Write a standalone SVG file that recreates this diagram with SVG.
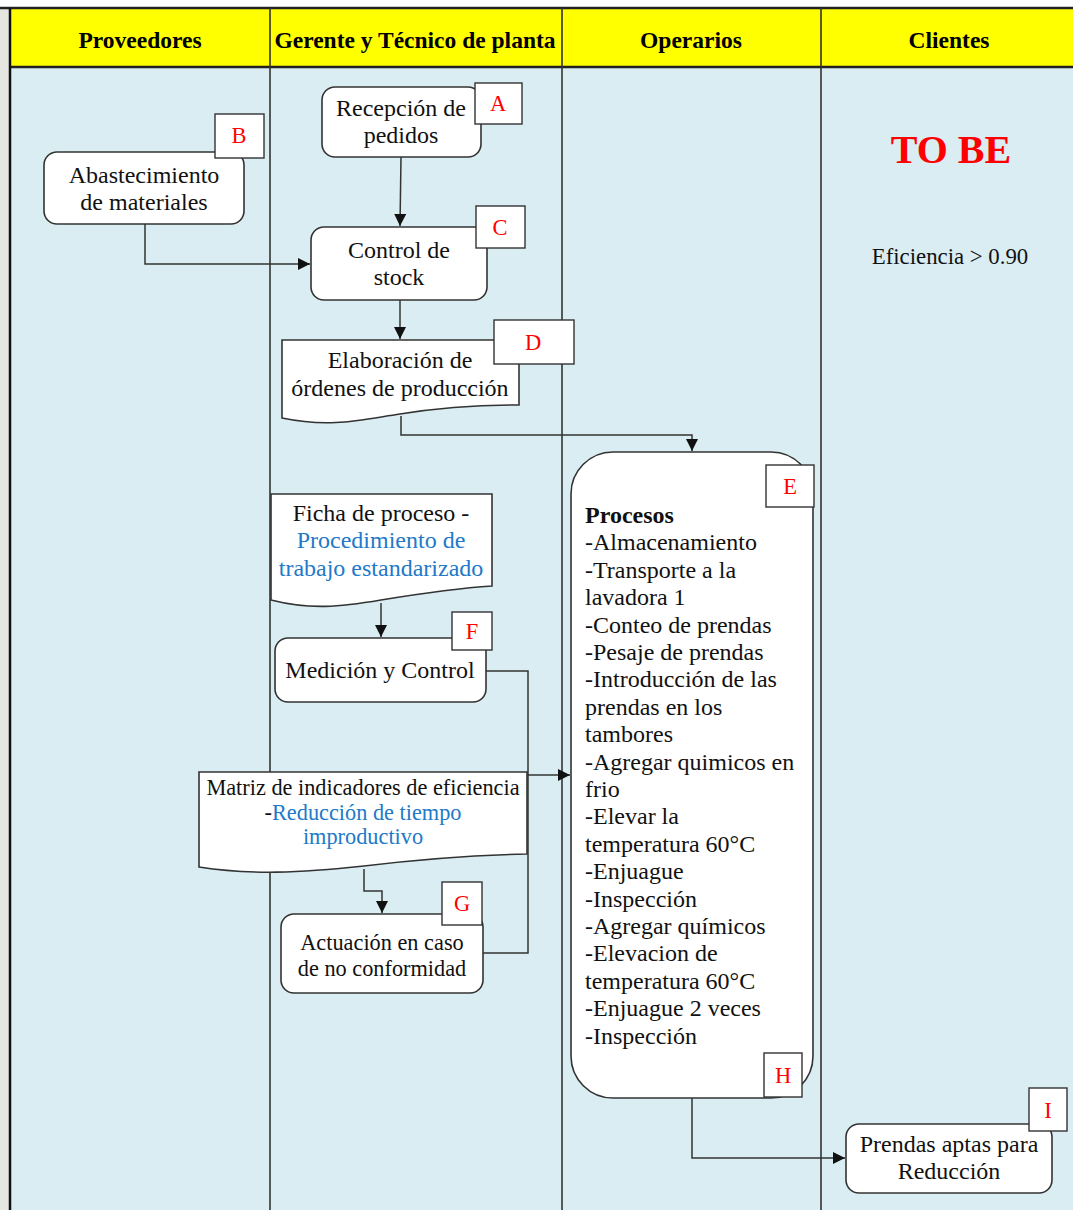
<svg xmlns="http://www.w3.org/2000/svg" width="1073" height="1210" viewBox="0 0 1073 1210">
  <defs>
    <style>
      .hdr { font-family: "Liberation Serif", "Times New Roman", serif; font-weight: bold; font-size: 23.5px; fill: #000; text-anchor: middle; }
      .txt { font-family: "Liberation Serif", "Times New Roman", serif; font-size: 24px; fill: #111; text-anchor: middle; }
      .sm { font-size: 22.3px; }
      .lst { font-family: "Liberation Serif", "Times New Roman", serif; font-size: 24px; fill: #111; }
      .blue { fill: #2179C8; }
      .node { fill: #fff; stroke: #333; stroke-width: 1.6; }
      .tag { fill: #fff; stroke: #333; stroke-width: 1.4; }
      .tagtxt { font-family: "Liberation Serif", "Times New Roman", serif; font-size: 22.5px; fill: #ff0000; text-anchor: middle; }
      .lane { stroke: #333; stroke-width: 1.6; }
      .conn { fill: none; stroke: #333; stroke-width: 1.5; }
    </style>
    <marker id="arrow" markerUnits="userSpaceOnUse" markerWidth="12" markerHeight="12" refX="12" refY="6" orient="auto">
      <path d="M0,0 L12,6 L0,12 z" fill="#111"/>
    </marker>
  </defs>

  <!-- page background -->
  <rect x="0" y="0" width="1073" height="1210" fill="#ffffff"/>
  <rect x="0" y="8" width="9" height="1202" fill="#e4e6df"/>
  <rect x="9" y="68" width="1064" height="1142" fill="#DAEDF3"/>
  <rect x="9" y="9" width="1064" height="58" fill="#FFFF00"/>

  <!-- lane grid -->
  <g id="lanes">
    <line x1="0" y1="8" x2="1073" y2="8" stroke="#222" stroke-width="2.5"/>
    <line x1="9" y1="67" x2="1073" y2="67" stroke="#222" stroke-width="2.5"/>
    <line x1="10" y1="8" x2="10" y2="1210" stroke="#111" stroke-width="2.5"/>
    <line class="lane" x1="270" y1="8" x2="270" y2="1210"/>
    <line class="lane" x1="562" y1="8" x2="562" y2="1210"/>
    <line class="lane" x1="821" y1="8" x2="821" y2="1210"/>
  </g>

  <!-- lane titles -->
  <g id="headers">
    <text class="hdr" x="140" y="48">Proveedores</text>
    <text class="hdr" x="415" y="48">Gerente y Técnico de planta</text>
    <text class="hdr" x="691" y="48">Operarios</text>
    <text class="hdr" x="949" y="48">Clientes</text>
  </g>

  <!-- status notes -->
  <g id="notes">
    <text x="951" y="163" font-family="Liberation Serif, Times New Roman, serif" font-weight="bold" font-size="40" fill="#ff0000" text-anchor="middle">TO BE</text>
    <text x="950" y="264" font-family="Liberation Serif, Times New Roman, serif" font-size="22.8" fill="#111" text-anchor="middle">Eficiencia &gt; 0.90</text>
  </g>

  <!-- connectors -->
  <g id="connectors">
    <path class="conn" d="M401,157 L400,226" marker-end="url(#arrow)"/>
    <path class="conn" d="M145,224 V264 H310" marker-end="url(#arrow)"/>
    <path class="conn" d="M400,300 V339" marker-end="url(#arrow)"/>
    <path class="conn" d="M401,416 V435 H692 V451" marker-end="url(#arrow)"/>
    <path class="conn" d="M381,603 V637" marker-end="url(#arrow)"/>
    <path class="conn" d="M486,671 H528 V775"/>
    <path class="conn" d="M483,953 H528 V775"/>
    <path class="conn" d="M528,775 H570" marker-end="url(#arrow)"/>
    <path class="conn" d="M364,869 V891 H382 V913" marker-end="url(#arrow)"/>
    <path class="conn" d="M692,1098 V1158 H845" marker-end="url(#arrow)"/>
  </g>

  <!-- A: order reception -->
  <g id="node-a">
    <rect class="node" x="322" y="87" width="159" height="70" rx="13"/>
    <text class="txt" x="401" y="116">Recepción de</text>
    <text class="txt" x="401" y="143">pedidos</text>
    <rect class="tag" x="475" y="83" width="47" height="41"/>
    <text class="tagtxt" x="498" y="111">A</text>
  </g>

  <!-- B: material supply -->
  <g id="node-b">
    <rect class="node" x="44" y="152" width="200" height="72" rx="13"/>
    <text class="txt" x="144" y="183">Abastecimiento</text>
    <text class="txt" x="144" y="210">de materiales</text>
    <rect class="tag" x="215" y="114" width="49" height="44"/>
    <text class="tagtxt" x="239" y="143">B</text>
  </g>

  <!-- C: stock control -->
  <g id="node-c">
    <rect class="node" x="311" y="227" width="176" height="73" rx="13"/>
    <text class="txt" x="399" y="258">Control de</text>
    <text class="txt" x="399" y="285">stock</text>
    <rect class="tag" x="476" y="206" width="49" height="42"/>
    <text class="tagtxt" x="500" y="235">C</text>
  </g>

  <!-- D: production orders (document) -->
  <g id="node-d">
    <path class="node" d="M282,340 H519 V405 C490,405 450,406 400,414 C360,420 330,428 282,418 Z"/>
    <text class="txt" x="400" y="368">Elaboración de</text>
    <text class="txt" x="400" y="396">órdenes de producción</text>
    <rect class="tag" x="494" y="320" width="80" height="44"/>
    <text class="tagtxt" x="533" y="350">D</text>
  </g>

  <!-- E/H: process list -->
  <g id="node-e">
    <rect class="node" x="571" y="452" width="242" height="646" rx="42"/>
    <text class="lst" x="585" y="523" font-weight="bold">Procesos</text>
    <text class="lst" x="585" y="550">-Almacenamiento</text>
    <text class="lst" x="585" y="578">-Transporte a la</text>
    <text class="lst" x="585" y="605">lavadora 1</text>
    <text class="lst" x="585" y="633">-Conteo de prendas</text>
    <text class="lst" x="585" y="660">-Pesaje de prendas</text>
    <text class="lst" x="585" y="687">-Introducción de las</text>
    <text class="lst" x="585" y="715">prendas en los</text>
    <text class="lst" x="585" y="742">tambores</text>
    <text class="lst" x="585" y="770">-Agregar quimicos en</text>
    <text class="lst" x="585" y="797">frio</text>
    <text class="lst" x="585" y="824">-Elevar la</text>
    <text class="lst" x="585" y="852">temperatura 60°C</text>
    <text class="lst" x="585" y="879">-Enjuague</text>
    <text class="lst" x="585" y="907">-Inspección</text>
    <text class="lst" x="585" y="934">-Agregar químicos</text>
    <text class="lst" x="585" y="961">-Elevacion de</text>
    <text class="lst" x="585" y="989">temperatura 60°C</text>
    <text class="lst" x="585" y="1016">-Enjuague 2 veces</text>
    <text class="lst" x="585" y="1044">-Inspección</text>
    <rect class="tag" x="766" y="465" width="48" height="42"/>
    <text class="tagtxt" x="790" y="494">E</text>
  </g>
  <g id="node-h">
    <rect class="tag" x="764" y="1053" width="38" height="44"/>
    <text class="tagtxt" x="783" y="1083">H</text>
  </g>

  <!-- process sheet (document) -->
  <g id="node-ficha">
    <path class="node" d="M271,494 H492 V586 C460,588 430,592 381,600 C340,607 310,610 271,600 Z"/>
    <text class="txt" x="381" y="521">Ficha de proceso -</text>
    <text class="txt blue" x="381" y="548">Procedimiento de</text>
    <text class="txt blue" x="381" y="576">trabajo estandarizado</text>
  </g>

  <!-- F: measurement and control -->
  <g id="node-f">
    <rect class="node" x="275" y="638" width="211" height="64" rx="13"/>
    <text class="txt" x="380" y="678">Medición y Control</text>
    <rect class="tag" x="452" y="612" width="40" height="38"/>
    <text class="tagtxt" x="472" y="639">F</text>
  </g>

  <!-- efficiency indicator matrix (document) -->
  <g id="node-matriz">
    <path class="node" d="M199,772 H527 V854 C480,855 430,858 364,866 C300,873 250,875 199,867 Z"/>
    <text class="txt sm" x="363" y="795">Matriz de indicadores de eficiencia</text>
    <text class="txt sm" x="363" y="820">-<tspan class="blue">Reducción de tiempo</tspan></text>
    <text class="txt sm blue" x="363" y="844">improductivo</text>
  </g>

  <!-- G: non-conformity action -->
  <g id="node-g">
    <rect class="node" x="281" y="914" width="202" height="79" rx="13"/>
    <text class="txt sm" x="382" y="950">Actuación en caso</text>
    <text class="txt sm" x="382" y="976">de no conformidad</text>
    <rect class="tag" x="442" y="882" width="40" height="43"/>
    <text class="tagtxt" x="462" y="911">G</text>
  </g>

  <!-- I: garments fit for reduction -->
  <g id="node-i">
    <rect class="node" x="846" y="1124" width="206" height="69" rx="13"/>
    <text class="txt" x="949" y="1152">Prendas aptas para</text>
    <text class="txt" x="949" y="1179">Reducción</text>
    <rect class="tag" x="1029" y="1088" width="38" height="43"/>
    <text class="tagtxt" x="1048" y="1118">I</text>
  </g>
</svg>
